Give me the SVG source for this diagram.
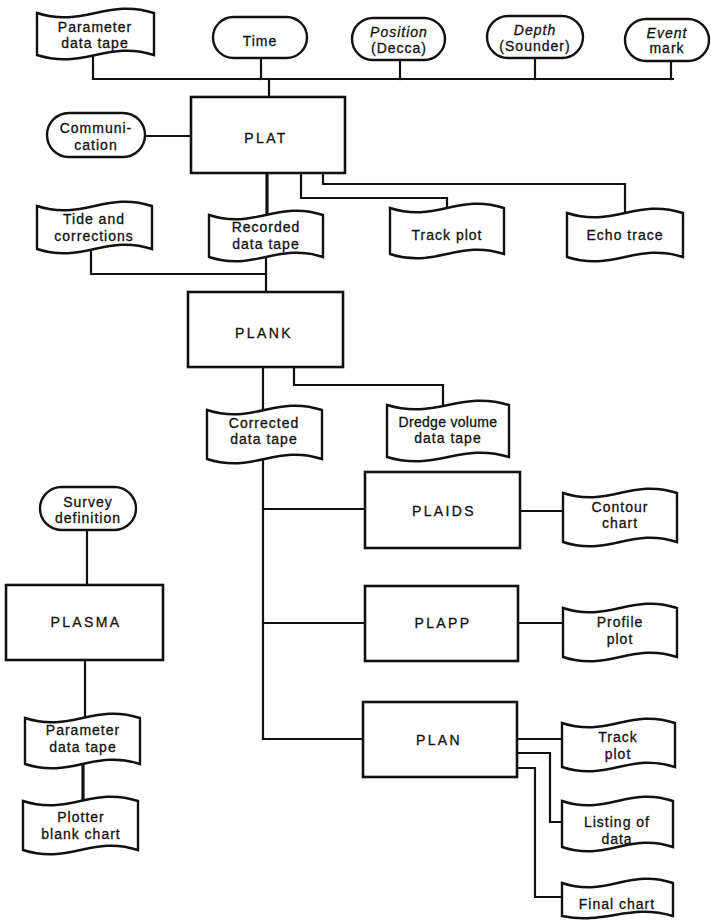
<svg xmlns="http://www.w3.org/2000/svg" width="711" height="922" viewBox="0 0 711 922">
<style>
.ln{fill:none;stroke:#111;stroke-width:2.2;stroke-linecap:square;stroke-linejoin:miter}
.th{stroke-width:3.2}
.box{fill:#fff;stroke:#111;stroke-width:2.6}
.tape{fill:#fff;stroke:#111;stroke-width:2.4;stroke-linejoin:miter}
.term{fill:#fff;stroke:#111;stroke-width:2.4}
text{font-family:"Liberation Sans",Arial,sans-serif;font-size:14px;fill:#111;stroke:#111;stroke-width:0.3;text-anchor:middle;letter-spacing:1px}
.big{letter-spacing:2.4px}
.it{font-style:italic}
</style>
<rect width="711" height="922" fill="#fff"/>
<g id="connectors">
<polyline class="ln" points="93,55 93,79 673,79"/>
<line class="ln" x1="261" y1="58" x2="261" y2="79"/>
<line class="ln" x1="400" y1="60" x2="400" y2="79"/>
<line class="ln" x1="535" y1="58" x2="535" y2="79"/>
<line class="ln" x1="671" y1="61" x2="671" y2="79"/>
<line class="ln" x1="269" y1="79" x2="269" y2="97"/>
<line class="ln" x1="145" y1="136" x2="191" y2="136"/>
<line class="ln th" x1="267" y1="173" x2="267" y2="214"/>
<polyline class="ln" points="301,173 301,198 447,198 447,208"/>
<polyline class="ln" points="323,173 323,184 625,184 625,212"/>
<polyline class="ln" points="91,249 91,274 266,274"/>
<line class="ln" x1="266" y1="257" x2="266" y2="292"/>
<line class="ln" x1="263" y1="367" x2="263" y2="410"/>
<polyline class="ln" points="294,367 294,385 443,385 443,405"/>
<polyline class="ln" points="263,459 263,739 363,739"/>
<line class="ln" x1="263" y1="509" x2="365" y2="509"/>
<line class="ln" x1="263" y1="623" x2="365" y2="623"/>
<line class="ln" x1="520" y1="511" x2="563" y2="511"/>
<line class="ln" x1="518" y1="623" x2="563" y2="623"/>
<line class="ln" x1="517" y1="739" x2="562" y2="739"/>
<polyline class="ln" points="517,753 550,753 550,822 562,822"/>
<polyline class="ln" points="517,768 535,768 535,897 562,897"/>
<line class="ln" x1="87" y1="530" x2="87" y2="585"/>
<line class="ln" x1="85" y1="660" x2="85" y2="718"/>
<line class="ln th" x1="83" y1="764" x2="83" y2="801"/>
</g>
<g id="param-tape-top">
<path class="tape" d="M37,13 C83.8,28 107.2,-2 154,13 L154,55 C107.2,40 83.8,70 37,55 Z"/>
<text x="95" y="32">Parameter</text><text x="95" y="48">data tape</text>
</g>
<g id="time">
<rect class="term" x="213" y="17" width="94" height="41" rx="20.5"/>
<text x="260" y="46">Time</text>
</g>
<g id="position">
<rect class="term" x="352" y="18" width="93" height="42" rx="21"/>
<text x="399" y="37" class="it">Position</text><text x="399" y="53">(Decca)</text>
</g>
<g id="depth">
<rect class="term" x="487" y="16" width="96" height="42" rx="21"/>
<text x="535" y="35" class="it">Depth</text><text x="535" y="51">(Sounder)</text>
</g>
<g id="event">
<rect class="term" x="625" y="19" width="84" height="42" rx="21"/>
<text x="667" y="38" class="it">Event</text><text x="667" y="53">mark</text>
</g>
<g id="communication">
<rect class="term" x="47" y="113" width="98" height="44" rx="22"/>
<text x="96" y="133">Communi-</text><text x="96" y="150">cation</text>
</g>
<g id="plat">
<rect class="box" x="191" y="97" width="154" height="76"/>
<text x="266" y="143" class="big">PLAT</text>
</g>
<g id="recorded-tape">
<path class="tape" d="M209,215 C254.6,230 277.4,200 323,215 L323,257 C277.4,242 254.6,272 209,257 Z"/>
<text x="266" y="232">Recorded</text><text x="266" y="249">data  tape</text>
</g>
<g id="track-plot-1">
<path class="tape" d="M390,208 C435.6,223 458.4,193 504,208 L504,254 C458.4,239 435.6,269 390,254 Z"/>
<text x="447" y="240">Track  plot</text>
</g>
<g id="echo-trace">
<path class="tape" d="M567,213 C613.4,228 636.6,198 683,213 L683,257 C636.6,242 613.4,272 567,257 Z"/>
<text x="625" y="240">Echo trace</text>
</g>
<g id="tide">
<path class="tape" d="M37,206 C83,221 106,191 152,206 L152,249 C106,234 83,264 37,249 Z"/>
<text x="94" y="224">Tide and</text><text x="94" y="241">corrections</text>
</g>
<g id="plank">
<rect class="box" x="188" y="292" width="155" height="75"/>
<text x="264" y="338" class="big">PLANK</text>
</g>
<g id="corrected-tape">
<path class="tape" d="M207,410 C253,425 276,395 322,410 L322,459 C276,444 253,474 207,459 Z"/>
<text x="264" y="428">Corrected</text><text x="264" y="444">data tape</text>
</g>
<g id="dredge-tape">
<path class="tape" d="M387,405 C435.8,420 460.2,390 509,405 L509,457 C460.2,442 435.8,472 387,457 Z"/>
<text x="448" y="427" style="letter-spacing:0.3px">Dredge volume</text><text x="448" y="443">data tape</text>
</g>
<g id="plaids">
<rect class="box" x="365" y="472" width="155" height="76"/>
<text x="444" y="516" class="big">PLAIDS</text>
</g>
<g id="contour">
<path class="tape" d="M563,493 C608.6,508 631.4,478 677,493 L677,542 C631.4,527 608.6,557 563,542 Z"/>
<text x="620" y="512">Contour</text><text x="620" y="528">chart</text>
</g>
<g id="plapp">
<rect class="box" x="365" y="586" width="153" height="75"/>
<text x="443" y="628" class="big">PLAPP</text>
</g>
<g id="profile">
<path class="tape" d="M563,608 C608.6,623 631.4,593 677,608 L677,657 C631.4,642 608.6,672 563,657 Z"/>
<text x="620" y="627">Profile</text><text x="620" y="644">plot</text>
</g>
<g id="plan">
<rect class="box" x="363" y="702" width="154" height="75"/>
<text x="439" y="745" class="big">PLAN</text>
</g>
<g id="track-plot-2">
<path class="tape" d="M562,723 C607.2,738 629.8,708 675,723 L675,767 C629.8,752 607.2,782 562,767 Z"/>
<text x="618" y="742">Track</text><text x="618" y="759">plot</text>
</g>
<g id="listing">
<path class="tape" d="M562,801 C606.4,816 628.6,786 673,801 L673,847 C628.6,832 606.4,862 562,847 Z"/>
<text x="617" y="827">Listing of</text><text x="617" y="844">data</text>
</g>
<g id="final-chart">
<path class="tape" d="M562,883 C606.4,898 628.6,868 673,883 L673,916 C628.6,903 606.4,925 562,916 Z"/>
<text x="617" y="909">Final chart</text>
</g>
<g id="survey">
<rect class="term" x="40" y="487" width="96" height="43" rx="21.5"/>
<text x="88" y="507">Survey</text><text x="88" y="523">definition</text>
</g>
<g id="plasma">
<rect class="box" x="6" y="585" width="157" height="75"/>
<text x="86" y="627" class="big">PLASMA</text>
</g>
<g id="param-tape-2">
<path class="tape" d="M25,718 C71,733 94,703 140,718 L140,764 C94,749 71,779 25,764 Z"/>
<text x="83" y="735">Parameter</text><text x="83" y="752">data  tape</text>
</g>
<g id="plotter">
<path class="tape" d="M23,801 C69,816 92,786 138,801 L138,850 C92,835 69,865 23,850 Z"/>
<text x="81" y="822">Plotter</text><text x="81" y="839">blank chart</text>
</g>
</svg>
